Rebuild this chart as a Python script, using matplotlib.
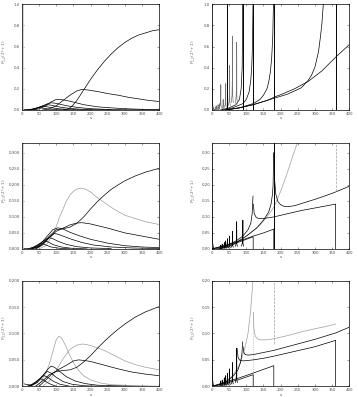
import numpy as np
import matplotlib.pyplot as plt

# ---------------- data ----------------
# left column: smooth humps, s on x axis
tl_curves = [
    ([120, 130, 140, 150, 160, 170, 180, 190, 200, 220, 240, 260, 280, 300, 320, 340, 360, 380, 400],
     [0, 0.005, 0.02, 0.05, 0.09, 0.14, 0.19, 0.24, 0.29, 0.38, 0.46, 0.53, 0.59, 0.64, 0.68, 0.71, 0.73, 0.75, 0.76]),
    ([60, 80, 100, 120, 140, 160, 175, 190, 220, 250, 280, 310, 340, 370, 400],
     [0, 0.01, 0.04, 0.09, 0.14, 0.18, 0.195, 0.19, 0.175, 0.155, 0.14, 0.12, 0.105, 0.09, 0.08]),
    ([30, 50, 70, 85, 100, 110, 130, 150, 180, 220, 260, 300, 350, 400],
     [0, 0.01, 0.04, 0.075, 0.1, 0.1, 0.09, 0.075, 0.05, 0.03, 0.02, 0.012, 0.006, 0.003]),
    ([25, 40, 60, 75, 85, 95, 110, 130, 160, 200, 250, 300, 400],
     [0, 0.01, 0.035, 0.06, 0.068, 0.065, 0.055, 0.04, 0.025, 0.012, 0.005, 0.002, 0]),
    ([20, 35, 50, 62, 72, 82, 95, 115, 140, 170, 210, 260],
     [0, 0.008, 0.025, 0.042, 0.05, 0.047, 0.038, 0.025, 0.014, 0.007, 0.003, 0.001]),
    ([15, 30, 45, 55, 62, 72, 85, 105, 130, 160, 200],
     [0, 0.006, 0.02, 0.032, 0.035, 0.031, 0.022, 0.012, 0.006, 0.002, 0]),
    ([10, 25, 38, 48, 55, 65, 80, 100, 130],
     [0, 0.005, 0.015, 0.022, 0.021, 0.015, 0.008, 0.003, 0]),
    ([0, 0.5, 1, 2, 3, 5, 10, 20, 40],
     [0.2, 0.15, 0.09, 0.04, 0.015, 0.005, 0.002, 0.001, 0]),
]

ml_black = [
    ([40, 60, 80, 100, 120, 140, 160, 180, 200, 220, 240, 260, 280, 300, 330, 360, 400],
     [0, 0.015, 0.04, 0.06, 0.063, 0.068, 0.08, 0.1, 0.125, 0.148, 0.168, 0.186, 0.2, 0.213, 0.228, 0.24, 0.252]),
    ([40, 60, 80, 100, 120, 140, 160, 175, 200, 250, 300, 350, 400],
     [0, 0.012, 0.035, 0.055, 0.065, 0.075, 0.081, 0.082, 0.078, 0.065, 0.05, 0.04, 0.03]),
    ([30, 50, 70, 90, 105, 120, 140, 170, 200, 250, 300, 350, 400],
     [0, 0.01, 0.035, 0.06, 0.066, 0.062, 0.052, 0.04, 0.03, 0.018, 0.01, 0.006, 0.004]),
    ([30, 50, 70, 85, 95, 105, 120, 145, 175, 210, 260, 320, 400],
     [0, 0.008, 0.025, 0.042, 0.048, 0.046, 0.04, 0.03, 0.02, 0.012, 0.006, 0.003, 0.001]),
    ([25, 45, 62, 72, 80, 90, 105, 130, 160, 200, 260],
     [0, 0.008, 0.024, 0.032, 0.035, 0.032, 0.024, 0.014, 0.007, 0.003, 0.001]),
    ([20, 38, 52, 62, 68, 78, 92, 115, 145, 190],
     [0, 0.006, 0.017, 0.024, 0.025, 0.021, 0.013, 0.006, 0.002, 0]),
    ([15, 30, 45, 55, 60, 70, 85, 110, 140],
     [0, 0.004, 0.012, 0.017, 0.017, 0.012, 0.006, 0.002, 0]),
    ([0, 0.5, 1, 2, 4, 8, 20],
     [0.05, 0.03, 0.015, 0.006, 0.002, 0.001, 0]),
]
ml_gray = [
    ([50, 70, 90, 100, 110, 120, 130, 140, 150, 160, 172, 185, 200, 220, 240, 260, 280, 300, 330, 360, 400],
     [0, 0.01, 0.045, 0.07, 0.1, 0.125, 0.15, 0.168, 0.18, 0.187, 0.19, 0.187, 0.178, 0.16, 0.145, 0.13, 0.117, 0.105, 0.095, 0.085, 0.076]),
]

bl_black = [
    ([40, 60, 80, 100, 120, 140, 160, 180, 200, 220, 240, 260, 280, 300, 330, 360, 400],
     [0, 0.01, 0.022, 0.028, 0.03, 0.031, 0.036, 0.046, 0.058, 0.072, 0.085, 0.097, 0.108, 0.118, 0.131, 0.141, 0.151]),
    ([50, 70, 90, 110, 130, 150, 165, 180, 200, 240, 280, 320, 360, 400],
     [0, 0.012, 0.025, 0.033, 0.04, 0.048, 0.05, 0.049, 0.047, 0.04, 0.033, 0.027, 0.023, 0.02]),
    ([25, 45, 62, 75, 85, 95, 110, 130, 155, 185, 220, 270, 330],
     [0, 0.007, 0.02, 0.032, 0.038, 0.036, 0.028, 0.018, 0.01, 0.005, 0.002, 0.001, 0]),
    ([20, 40, 55, 67, 75, 85, 100, 120, 145, 180, 230],
     [0, 0.006, 0.016, 0.025, 0.028, 0.025, 0.017, 0.009, 0.004, 0.001, 0]),
    ([18, 35, 50, 60, 66, 75, 90, 110, 140],
     [0, 0.005, 0.013, 0.019, 0.02, 0.017, 0.01, 0.004, 0]),
    ([15, 30, 42, 50, 56, 65, 80, 100],
     [0, 0.004, 0.009, 0.013, 0.014, 0.011, 0.005, 0]),
    ([0, 0.5, 1, 2, 4, 10, 20, 30],
     [0.19, 0.12, 0.06, 0.02, 0.005, 0.004, 0.003, 0]),
]
bl_gray = [
    ([40, 55, 70, 80, 90, 100, 108, 115, 125, 135, 150, 165, 180, 200, 230, 260, 300, 350, 400],
     [0, 0.008, 0.025, 0.042, 0.065, 0.088, 0.095, 0.092, 0.08, 0.065, 0.045, 0.03, 0.02, 0.012, 0.006, 0.003, 0.002, 0.001, 0]),
    ([60, 80, 100, 120, 140, 160, 175, 190, 210, 240, 270, 300, 330, 360, 400],
     [0, 0.01, 0.03, 0.052, 0.07, 0.078, 0.08, 0.079, 0.075, 0.068, 0.058, 0.048, 0.041, 0.036, 0.031]),
]

# right column: curves that blow up at s = 360/n
tr_black = [
    ([40, 80, 120, 160, 180, 200, 240, 280, 320, 360, 400],
     [0, 0.02, 0.05, 0.09, 0.12, 0.145, 0.2, 0.27, 0.37, 0.5, 0.62]),
    ([40, 80, 120, 160, 180, 200, 220, 240, 260, 280, 290, 300, 310, 316, 320, 324],
     [0, 0.02, 0.05, 0.09, 0.11, 0.13, 0.15, 0.18, 0.21, 0.28, 0.33, 0.41, 0.55, 0.7, 0.82, 1.0]),
    ([40, 80, 120, 140, 150, 160, 165, 170, 174, 177, 179],
     [0, 0.02, 0.06, 0.1, 0.14, 0.2, 0.26, 0.36, 0.5, 0.7, 1.0]),
    ([30, 60, 90, 100, 108, 113, 116, 118, 119.5],
     [0, 0.02, 0.06, 0.1, 0.17, 0.28, 0.42, 0.62, 1.0]),
    ([25, 50, 70, 80, 85, 88, 89.5],
     [0, 0.02, 0.05, 0.1, 0.2, 0.4, 1.0]),
    ([0, 0.5, 1, 2, 4, 8],
     [1.0, 0.5, 0.2, 0.05, 0.01, 0]),
]
tr_walls = [45, 90, 120, 180, 360]
tr_spike_s = [10, 14, 18, 22, 25.7, 32.7, 40, 51.4, 60, 72]
tr_spike_h = [0.03, 0.04, 0.05, 0.06, 0.24, 0.1, 0.25, 0.42, 0.7, 0.64]

mr_black = [
    ([20, 60, 100, 130, 150, 165, 172, 176, 178, 179.5],
     [0, 0.012, 0.04, 0.065, 0.09, 0.115, 0.14, 0.17, 0.2, 0.3]),
    ([180.5, 182, 186, 192, 200, 210, 220, 240, 270, 300, 330, 360, 400],
     [0.3, 0.22, 0.17, 0.148, 0.138, 0.133, 0.132, 0.135, 0.145, 0.155, 0.166, 0.178, 0.196]),
    ([10, 40, 70, 90, 105, 113, 117, 119.5],
     [0, 0.008, 0.025, 0.04, 0.06, 0.08, 0.11, 0.165]),
    ([120.5, 123, 128, 135, 150, 180, 220, 260, 300, 330, 360, 360],
     [0.14, 0.11, 0.1, 0.095, 0.095, 0.1, 0.11, 0.12, 0.128, 0.134, 0.14, 0]),
    ([0, 40, 80, 120, 150, 180, 180],
     [0, 0.012, 0.025, 0.04, 0.05, 0.062, 0]),
    ([0, 40, 80, 120, 120],
     [0, 0.01, 0.022, 0.038, 0]),
    ([0, 0.5, 1, 2, 4, 8],
     [0.33, 0.15, 0.06, 0.02, 0.005, 0]),
]
mr_gray = [
    ([20, 60, 100, 140, 160, 180, 200, 220, 235, 248],
     [0, 0.015, 0.04, 0.075, 0.1, 0.13, 0.18, 0.24, 0.29, 0.33]),
]
mr_walls = [180]
mr_dashed = ([360, 360], [0.18, 0.33])
mr_spike_s = [25.7, 30, 36, 40, 45, 51.4, 60, 72, 90]
mr_spike_h = [0.012, 0.015, 0.02, 0.025, 0.032, 0.04, 0.055, 0.085, 0.09]

br_black = [
    ([10, 40, 60, 75, 83, 87, 89.5],
     [0, 0.008, 0.018, 0.03, 0.045, 0.06, 0.084]),
    ([90.5, 93, 97, 105, 120, 150, 180, 220, 260, 300, 330, 360, 400],
     [0.075, 0.064, 0.06, 0.059, 0.06, 0.064, 0.068, 0.075, 0.082, 0.089, 0.095, 0.101, 0.112]),
    ([73, 76, 80, 90, 120, 150, 180, 220, 260, 300, 330, 360, 360],
     [0.072, 0.055, 0.05, 0.048, 0.05, 0.053, 0.057, 0.063, 0.069, 0.075, 0.081, 0.087, 0]),
    ([0, 40, 80, 120, 150, 180, 180],
     [0, 0.008, 0.016, 0.025, 0.032, 0.039, 0]),
    ([0, 40, 80, 120, 120],
     [0, 0.006, 0.013, 0.022, 0]),
    ([0, 0.5, 1, 2, 4, 8],
     [0.2, 0.1, 0.04, 0.012, 0.003, 0]),
]
br_gray = [
    ([10, 40, 60, 80, 95, 105, 112, 117, 119],
     [0, 0.01, 0.02, 0.04, 0.07, 0.1, 0.14, 0.18, 0.2]),
    ([120.5, 122, 126, 132, 140, 160, 180, 220, 260, 300, 330, 360],
     [0.14, 0.11, 0.095, 0.09, 0.088, 0.088, 0.09, 0.096, 0.103, 0.109, 0.113, 0.118]),
]
br_gray_walls = ([120, 120], [0.0, 0.14])
br_dashed = ([180, 180], [0.08, 0.2])
br_spike_s = [25.7, 30, 36, 40, 45, 51.4, 60, 72]
br_spike_h = [0.01, 0.012, 0.016, 0.02, 0.025, 0.033, 0.045, 0.072]

ylabels = [r'$P_{1,2}(2^s+1)$', r'$P_{2,3}(2^s+1)$', r'$P_{3,5}(2^s+1)$']
ytops = [1.0, 0.33, 0.2]

# ---------------- figure ----------------
fig = plt.figure(figsize=(3.58, 3.97), dpi=100)
lefts = [0.061, 0.592]
bottoms = [0.723, 0.373, 0.027]
w, h = 0.384, 0.266

axes = [[fig.add_axes([l, b, w, h]) for l in lefts] for b in bottoms]

lw = 0.5
gray = '0.62'


def spikes(ax, s_list, h_list, color):
    for s, hh in zip(s_list, h_list):
        ax.plot([s - 4, s - 1.5, s - 0.3, s, s + 0.4, s + 2],
                [0.1 * hh, 0.2 * hh, 0.5 * hh, hh, 0.2 * hh, 0.1 * hh],
                color=color, lw=lw)


# top left
ax = axes[0][0]
for s, y in tl_curves:
    ax.plot(s, y, color='k', lw=lw)
ax.axvline(2, color='0.8', lw=1.2)

# middle left
ax = axes[1][0]
for s, y in ml_gray:
    ax.plot(s, y, color=gray, lw=lw)
for s, y in ml_black:
    ax.plot(s, y, color='k', lw=lw)
ax.axvline(2, color='0.8', lw=1.2)

# bottom left
ax = axes[2][0]
for s, y in bl_gray:
    ax.plot(s, y, color=gray, lw=lw)
for s, y in bl_black:
    ax.plot(s, y, color='k', lw=lw)
ax.axvline(2, color='0.8', lw=1.2)

# top right
ax = axes[0][1]
for s, y in tr_black:
    ax.plot(s, y, color='k', lw=lw)
for s in tr_walls:
    ax.axvline(s, color='k', lw=0.7)
spikes(ax, tr_spike_s, tr_spike_h, '0.45')

# middle right
ax = axes[1][1]
for s, y in mr_gray:
    ax.plot(s, y, color=gray, lw=lw)
for s, y in mr_black:
    ax.plot(s, y, color='k', lw=lw)
for s in mr_walls:
    ax.axvline(s, color='k', lw=0.7)
ax.plot(*mr_dashed, color=gray, lw=lw, ls='--')
spikes(ax, mr_spike_s, mr_spike_h, 'k')

# bottom right
ax = axes[2][1]
for s, y in br_gray:
    ax.plot(s, y, color=gray, lw=lw)
ax.plot(*br_gray_walls, color=gray, lw=lw, ls=':')
ax.plot(*br_dashed, color=gray, lw=lw, ls='--')
for s, y in br_black:
    ax.plot(s, y, color='k', lw=lw)
spikes(ax, br_spike_s, br_spike_h, 'k')

for r in range(3):
    for c in range(2):
        ax = axes[r][c]
        ax.set_xlim(0, 400)
        ax.set_ylim(0, ytops[r])
        ax.set_xticks(np.arange(0, 401, 50))
        if r == 0:
            ax.set_yticks(np.arange(0, 1.01, 0.2))
            ax.yaxis.set_major_formatter('{x:.1f}')
        elif r == 1:
            ax.set_yticks(np.arange(0, 0.31, 0.05))
            ax.yaxis.set_major_formatter('{x:.3f}' if c == 0 else '{x:.2f}')
        else:
            ax.set_yticks(np.arange(0, 0.21, 0.05))
            ax.yaxis.set_major_formatter('{x:.3f}' if c == 0 else '{x:.2f}')
        ax.tick_params(direction='in', top=True, right=True, labelsize=2.8,
                       length=1.5, width=0.4, pad=1.2, colors='0.3')
        for sp in ax.spines.values():
            sp.set_linewidth(0.5)
        ax.set_xlabel('s', fontsize=3, color='0.3')
        ax.xaxis.set_label_coords(0.5, -0.06)
        ax.set_ylabel(ylabels[r], fontsize=3, color='0.4')
        ax.yaxis.set_label_coords(-0.095 if c == 0 else -0.1, 0.55)

fig.savefig('out.png', dpi=100)
